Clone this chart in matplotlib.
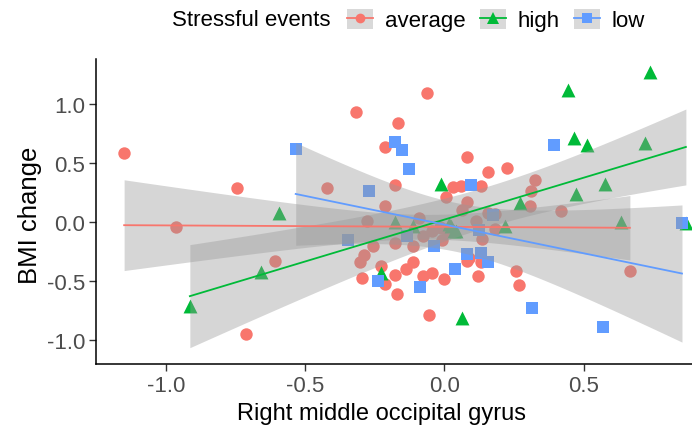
import numpy as np
import matplotlib
matplotlib.use("Agg")
import matplotlib.pyplot as plt
from matplotlib.lines import Line2D
from matplotlib.patches import Rectangle
from matplotlib.legend_handler import HandlerTuple

plt.rcParams["font.family"] = ["Liberation Sans", "DejaVu Sans"]

# --- data -------------------------------------------------------------
groups = ["average", "high", "low"]
colors = {"average": "#F8766D", "high": "#00BA38", "low": "#619CFF"}
markers = {"average": "o", "high": "^", "low": "s"}

avg_x = [-1.150, -0.965, -0.746, -0.714, -0.609, -0.420, -0.319, -0.215, -0.212,
         -0.279, -0.258, -0.287, -0.304, -0.229, -0.297, -0.212, -0.064, -0.165,
         0.082, 0.158, 0.226, -0.179, 0.032, 0.061, 0.132, 0.007, 0.326, 0.312,
         0.082, 0.308, 0.420, 0.064, 0.155, 0.180, -0.093, -0.176, -0.111, -0.078,
         -0.046, -0.011, 0.011, -0.007, 0.114, 0.136, 0.180, -0.114, -0.137, -0.179,
         -0.172, -0.078, -0.046, -0.003, 0.089, 0.082, 0.132, 0.122, 0.258, 0.269,
         -0.057, 0.666, 0.018, -0.017]
avg_y = [0.582, -0.040, 0.287, -0.945, -0.330, 0.287, 0.928, 0.633, 0.135,
         0.008, -0.200, -0.280, -0.340, -0.370, -0.475, -0.520, 1.090, 0.835,
         0.550, 0.420, 0.456, 0.312, 0.295, 0.304, 0.304, 0.210, 0.354, 0.260,
         0.170, 0.135, 0.090, 0.100, 0.080, 0.070, 0.030, -0.180, -0.200, -0.120,
         -0.080, -0.050, -0.080, -0.150, 0.010, -0.140, -0.060, -0.340, -0.400, -0.450,
         -0.610, -0.460, -0.430, -0.480, -0.300, -0.330, -0.340, -0.460, -0.410, -0.530,
         -0.790, -0.410, -0.060, -0.040]

high_x = [-0.914, -0.659, -0.595, -0.014, 0.445, 0.739, 0.466, 0.513, 0.720,
          0.577, 0.474, 0.273, -0.176, -0.114, 0.018, 0.036, 0.219, 0.634,
          0.867, 0.064, -0.229, 0.025, 0.043]
high_y = [-0.710, -0.420, 0.080, 0.320, 1.120, 1.270, 0.710, 0.650, 0.670,
          0.320, 0.240, 0.160, 0.000, -0.030, -0.020, -0.080, -0.030, 0.000,
          -0.010, -0.810, -0.430, -0.030, -0.080]

low_x = [-0.534, -0.272, -0.347, -0.240, -0.179, -0.154, -0.126, 0.097, 0.394,
         0.173, -0.133, 0.125, -0.036, 0.082, 0.132, 0.155, 0.039, -0.089,
         0.315, 0.570, 0.853]
low_y = [0.616, 0.260, -0.150, -0.500, 0.680, 0.610, 0.450, 0.310, 0.650,
         0.060, -0.120, -0.070, -0.200, -0.270, -0.260, -0.340, -0.400, -0.550,
         -0.730, -0.890, -0.010]

series = {
    "average": (np.array(avg_x), np.array(avg_y)),
    "high": (np.array(high_x), np.array(high_y)),
    "low": (np.array(low_x), np.array(low_y)),
}

x_ticks = [-1.0, -0.5, 0.0, 0.5]
x_labels = ["-1.0", "-0.5", "0.0", "0.5"]
y_ticks = [-1.0, -0.5, 0.0, 0.5, 1.0]
y_labels = ["-1.0", "-0.5", "0.0", "0.5", "1.0"]


def t975(df):
    # Cornish-Fisher expansion of the Student t 97.5% quantile
    z = 1.959964
    return (z + (z**3 + z) / (4 * df)
            + (5 * z**5 + 16 * z**3 + 3 * z) / (96 * df**2)
            + (3 * z**7 + 19 * z**5 + 17 * z**3 - 15 * z) / (384 * df**3))


def linear_fit_band(x, y, n=80):
    b, a = np.polyfit(x, y, 1)
    xs = np.linspace(x.min(), x.max(), n)
    fit = a + b * xs
    resid = y - (a + b * x)
    dof = len(x) - 2
    s = np.sqrt(np.sum(resid**2) / dof)
    se = s * np.sqrt(1 / len(x) + (xs - x.mean())**2 / np.sum((x - x.mean())**2))
    t = t975(dof)
    return xs, fit, fit - t * se, fit + t * se


# --- figure -----------------------------------------------------------
W, H = 692, 427
fig = plt.figure(figsize=(W / 100, H / 100), dpi=100)
ax = fig.add_axes([96 / W, 1 - 365 / H, 1 - 96 / W, (365 - 60) / H])

sizes = {"average": 80, "high": 100, "low": 64}
for g in groups:
    x, y = series[g]
    ax.scatter(x, y, s=sizes[g], marker=markers[g], color=colors[g],
               linewidths=0, zorder=2)

for g in groups:
    x, y = series[g]
    xs, fit, lo, hi = linear_fit_band(x, y)
    ax.fill_between(xs, lo, hi, color="#999999", alpha=0.4, linewidth=0, zorder=3)
    ax.plot(xs, fit, color=colors[g], lw=1.3, zorder=4)

ax.set_xlim(-1.251, 0.889)
ax.set_ylim(-1.200, 1.378)
ax.set_xticks(x_ticks)
ax.set_xticklabels(x_labels)
ax.set_yticks(y_ticks)
ax.set_yticklabels(y_labels)

for side in ["top", "right"]:
    ax.spines[side].set_visible(False)
for side in ["left", "bottom"]:
    ax.spines[side].set_linewidth(1.1)
    ax.spines[side].set_color("black")
ax.tick_params(axis="both", length=5, width=1.0, color="#333333",
               labelsize=16, labelcolor="#4D4D4D", pad=3)

ax.set_xlabel("Right middle occipital gyrus", fontsize=17)
ax.xaxis.set_label_coords(0.479, -0.124)
ax.xaxis.label.set_va("top")
ax.set_ylabel("BMI change", fontsize=18.5)
ax.yaxis.set_label_coords(-0.091, 0.492)

# legend across the top
fig.text(172 / W, 1 - 21 / H, "Stressful events", fontsize=16,
         ha="left", va="center")
handles = []
for g in groups:
    bg = Rectangle((0, 0), 1, 1, facecolor="#D9D9D9", edgecolor="none")
    ln = Line2D([], [], color=colors[g], lw=1.3, marker=markers[g],
                markersize=7 if g != "high" else 8, markeredgewidth=0)
    handles.append((bg, ln))
fig.legend(handles, groups, loc="center left",
           bbox_to_anchor=(347 / W, 1 - 21 / H), ncol=3, frameon=False,
           fontsize=16, handlelength=1.17, handleheight=1.05,
           handletextpad=0.54, columnspacing=0.63, borderpad=0,
           borderaxespad=0,
           handler_map={tuple: HandlerTuple(ndivide=1, pad=0)})

fig.savefig("out.png", dpi=100)
